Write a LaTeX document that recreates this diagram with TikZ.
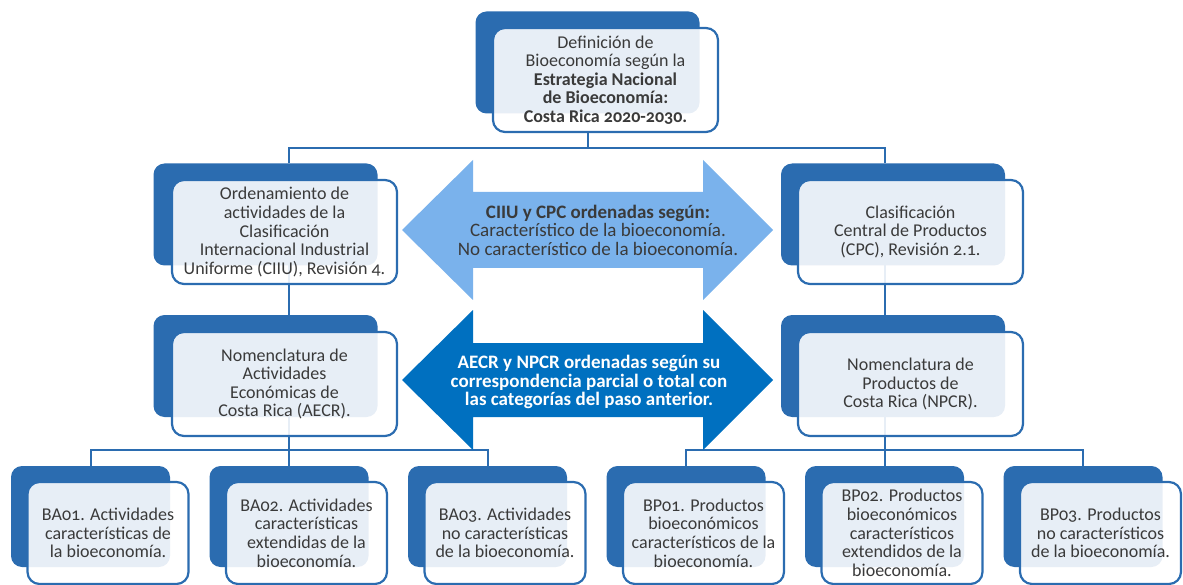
\documentclass[tikz,border=0pt]{standalone}
\usepackage{fontspec}
\setmainfont{Carlito}[Numbers=OldStyle]
\definecolor{boxblue}{RGB}{43,108,176}
\definecolor{arrlight}{RGB}{122,178,236}
\definecolor{arrdark}{RGB}{0,112,192}
\definecolor{txt}{RGB}{58,58,58}
\pgfdeclarelayer{bg}
\pgfsetlayers{bg,main}
\begin{document}
\begin{tikzpicture}[x=1pt,y=-1pt,
  backL/.style={fill=boxblue, rounded corners=11pt, minimum width=224pt, minimum height=102pt, inner sep=0pt, outer sep=0pt},
  frontL/.style={draw=boxblue, line width=2.2pt, fill=white, fill opacity=0.89, text opacity=1, rounded corners=12pt, minimum width=225pt, minimum height=104pt, inner sep=0pt, outer sep=0pt, align=center, text=txt, font=\fontsize{18}{18.6}\selectfont},
  backS/.style={backL, minimum width=159pt, minimum height=101pt},
  frontS/.style={frontL, minimum width=161pt, minimum height=102pt},
  conn/.style={draw=boxblue, line width=2pt},
  arrtext/.style={align=center, font=\fontsize{19}{18.5}\selectfont, inner sep=0pt}
]
\useasboundingbox (0,0) rectangle (1183,585);
\coordinate (sL) at (289,0);
\coordinate (sR) at (885,0);
\coordinate (h0) at (0,148);
\coordinate (h1) at (0,450);

% back boxes
\node[backL] (tb) at (587.5,62.5) {};
\node[backL] (l2Lb) at (265.5,214.5) {};
\node[backL] (l2Rb) at (893,214.5) {};
\node[backL] (l3Lb) at (265.5,366) {};
\node[backL] (l3Rb) at (893,366) {};
\node[backS] (b1b) at (90.5,516.5) {};
\node[backS] (b2b) at (289,516.5) {};
\node[backS] (b3b) at (487.5,516.5) {};
\node[backS] (b4b) at (686,516.5) {};
\node[backS] (b5b) at (884.5,516.5) {};
\node[backS] (b6b) at (1083,516.5) {};

% front boxes
\node[frontL] (t) at (605.5,80) {Definición de\\Bioeconomía según la\\\textbf{Estrategia Nacional}\\\textbf{de Bioeconomía:}\\\textbf{Costa Rica 2020-2030.}};
\node[frontL] (l2L) at (284.5,232) {Ordenamiento de\\actividades de la\\Clasificación\\Internacional Industrial\\Uniforme (CIIU), Revisión 4.};
\node[frontL] (l2R) at (910.5,232) {Clasificación\\Central de Productos\\(CPC), Revisión 2.1.};
\node[frontL] (l3L) at (284.5,384) {Nomenclatura de\\Actividades\\Económicas de\\Costa Rica (AECR).};
\node[frontL] (l3R) at (910.5,384) {Nomenclatura de\\Productos de\\Costa Rica (NPCR).};
\node[frontS] (b1) at (108,533) {BA01. Actividades\\características de\\la bioeconomía.};
\node[frontS] (b2) at (306.5,533) {BA02. Actividades\\características\\extendidas de la\\bioeconomía.};
\node[frontS] (b3) at (505,533) {BA03. Actividades\\no características\\de la bioeconomía.};
\node[frontS] (b4) at (703.5,533) {BP01. Productos\\bioeconómicos\\característicos de la\\bioeconomía.};
\node[frontS] (b5) at (902,533) {BP02. Productos\\bioeconómicos\\característicos\\extendidos de la\\bioeconomía.};
\node[frontS] (b6) at (1100.5,533) {BP03. Productos\\no característicos\\de la bioeconomía.};

% double arrows
\fill[arrlight] (402,230) -- (473,160) -- (473,192) -- (703,192) -- (703,160) -- (773,230)
  -- (703,300) -- (703,268) -- (473,268) -- (473,300) -- cycle;
\fill[arrdark] (402,380) -- (473,310) -- (473,343) -- (703,343) -- (703,310) -- (773,380)
  -- (703,450) -- (703,417) -- (473,417) -- (473,450) -- cycle;
\node[arrtext, text=txt] (a1) at (598,230) {\textbf{CIIU y CPC ordenadas según:}\\Característico de la bioeconomía.\\No característico de la bioeconomía.};
\node[arrtext, text=white] (a2) at (589,382) {\textbf{AECR y NPCR ordenadas según su}\\\textbf{correspondencia parcial o total con}\\\textbf{las categorías del paso anterior.}};

% connectors
\begin{pgfonlayer}{bg}
\draw[conn] (t.south -| tb.center) -- (h0 -| tb.center);
\draw[conn] (l2Lb.north -| sL) |- (h0 -| tb.center) -| (l2Rb.north -| sR);
\draw[conn] (l2Lb.south -| sL) -- (l3Lb.north -| sL);
\draw[conn] (l2Rb.south -| sR) -- (l3Rb.north -| sR);
\draw[conn] (l3Lb.south -| sL) -- (h1 -| sL);
\draw[conn] (b1b.north) |- (h1 -| sL) -| (b3b.north);
\draw[conn] (h1 -| b2b.north) -- (b2b.north);
\draw[conn] (l3Rb.south -| sR) -- (h1 -| sR);
\draw[conn] (b4b.north) |- (h1 -| sR) -| (b6b.north);
\draw[conn] (h1 -| b5b.north) -- (b5b.north);
\end{pgfonlayer}
\end{tikzpicture}
\end{document}
